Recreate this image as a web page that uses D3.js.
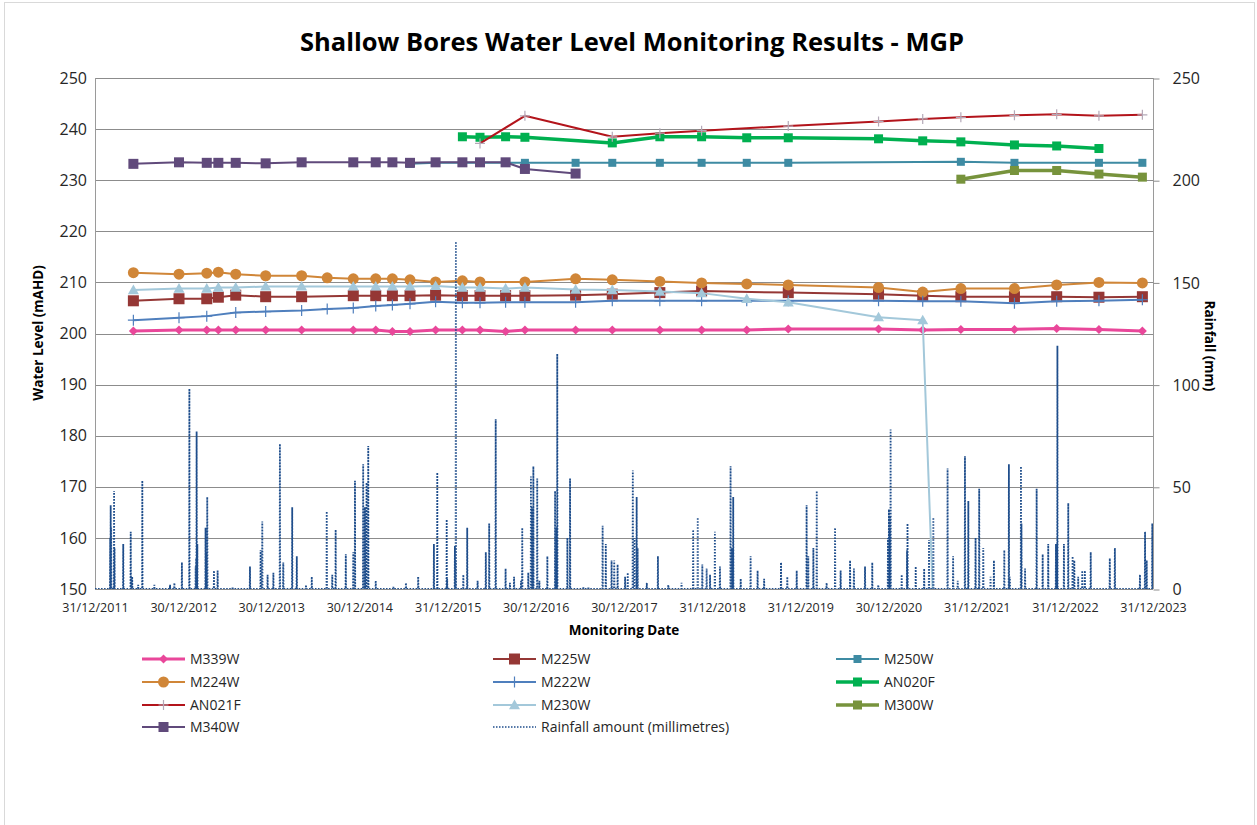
<!DOCTYPE html>
<html lang="en">
<head>
<meta charset="UTF-8">
<title>Shallow Bores Water Level Monitoring Results - MGP</title>
<script src="https://d3js.org/d3.v7.min.js"></script>
<style>
    body { margin: 0; background: #fff; }
    svg { font-family: "Open Sans", "Liberation Sans", sans-serif; }
</style>
</head>
<body>
<div id="chart"></div>
<script>
// sampling dates shared by the bore series
const sampleDates = ["2012-06-07","2012-12-13","2013-04-07","2013-05-25","2013-08-05","2013-12-07",
    "2014-05-05","2014-08-19","2014-12-05","2015-03-08","2015-05-16","2015-07-28","2015-11-11",
    "2016-03-01","2016-05-13","2016-08-27","2016-11-15","2017-06-13","2017-11-12","2018-05-28",
    "2018-11-17","2019-05-23","2019-11-11","2020-11-19","2021-05-21","2021-10-26","2022-06-05",
    "2022-11-27","2023-05-21","2023-11-17"];

const M339W = [200.5,200.7,200.7,200.7,200.7,200.7,200.7,null,200.7,200.7,200.4,200.4,200.7,200.7,200.7,
    200.4,200.7,200.7,200.7,200.7,200.7,200.7,200.9,200.9,200.7,200.8,200.8,201.0,200.8,200.5];
const M225W = [206.4,206.8,206.8,207.1,207.5,207.2,207.2,null,207.4,207.4,207.4,207.4,207.5,207.4,207.4,
    207.4,207.4,207.5,207.7,208.0,208.3,null,208.0,207.7,207.4,207.2,207.2,207.2,207.1,207.2];
const M250W = [null,null,null,null,null,null,null,null,null,null,null,233.2,233.4,233.4,233.4,
    233.4,233.4,233.4,233.4,233.4,233.4,233.4,233.4,null,null,233.6,233.4,null,233.4,233.4];
const M224W = [211.9,211.6,211.8,212.0,211.6,211.3,211.3,210.9,210.7,210.7,210.7,210.5,210.1,210.3,210.1,
    null,210.1,210.7,210.5,210.2,209.9,209.7,209.5,209.0,208.1,208.8,208.8,209.5,210.0,209.9];
const M222W = [202.6,203.1,203.4,null,204.1,204.3,204.5,204.8,205.0,205.4,205.6,205.8,206.2,206.0,206.0,
    206.1,206.1,206.1,206.4,206.4,206.4,206.4,206.4,206.4,206.3,206.3,205.9,206.3,206.4,206.6];
const AN020F = [null,null,null,null,null,null,null,null,null,null,null,null,null,238.5,238.4,
    238.5,238.4,null,237.3,238.5,238.5,238.3,238.3,238.1,237.7,237.5,236.9,236.7,236.2,null];
const AN021F = [null,null,null,null,null,null,null,null,null,null,null,null,null,null,237.2,
    null,242.6,null,238.5,239.2,239.7,null,240.6,241.5,242.0,242.3,242.7,242.9,242.6,242.8];
const M230W = [208.5,208.8,208.8,209.0,209.0,209.2,209.2,null,209.2,209.2,209.2,209.2,209.3,209.0,209.0,
    208.8,209.0,208.6,208.5,208.2,207.9,206.8,206.1,203.2,202.6,0,null,null,null,null];
const M300W = [null,null,null,null,null,null,null,null,null,null,null,null,null,null,null,
    null,null,null,null,null,null,null,null,null,null,230.2,231.9,231.9,231.2,230.6];
const M340W = [233.2,233.5,233.4,233.4,233.4,233.3,233.5,null,233.5,233.5,233.5,233.4,233.5,233.5,233.5,
    233.5,232.2,231.3,null,null,null,null,null,null,null,null,null,null,null,null];

// daily rainfall (mm), only the days with rain; every other day is 0
const rainfall = [
    ["2012-03-03",25],["2012-03-05",41],["2012-03-07",30],["2012-03-19",48],["2012-03-21",20],["2012-04-26",22],
    ["2012-05-27",28],["2012-06-02",6],["2012-06-27",2],["2012-07-14",53],["2012-09-02",2],["2012-11-06",2],
    ["2012-11-24",3],["2012-12-25",13],["2013-01-25",98],["2013-02-20",11],["2013-02-22",15],["2013-02-24",77],
    ["2013-02-27",22],["2013-04-02",30],["2013-04-04",18],["2013-04-09",45],["2013-05-07",9],["2013-05-22",9],
    ["2013-07-23",1],["2013-10-03",11],["2013-11-16",19],["2013-11-23",33],["2013-12-15",7],["2014-01-08",8],
    ["2014-02-04",71],["2014-02-18",13],["2014-03-27",40],["2014-04-15",16],["2014-05-23",2],["2014-06-16",6],
    ["2014-08-17",38],["2014-09-09",7],["2014-09-23",29],["2014-11-04",17],["2014-12-05",18],["2014-12-12",53],
    ["2015-01-15",61],["2015-01-22",40],["2015-01-29",52],["2015-02-05",70],["2015-03-08",4],["2015-05-20",1],
    ["2015-07-11",3],["2015-08-31",6],["2015-11-04",22],["2015-11-18",57],["2015-12-27",34],["2015-12-29",5],
    ["2016-01-30",21],["2016-02-01",14],["2016-02-03",170],["2016-03-05",7],["2016-03-21",30],["2016-05-03",4],
    ["2016-06-06",18],["2016-06-20",32],["2016-07-17",83],["2016-08-27",10],["2016-09-14",3],["2016-10-01",6],
    ["2016-10-30",4],["2016-11-04",30],["2016-11-29",8],["2016-12-10",55],["2016-12-14",40],["2016-12-20",60],
    ["2017-01-05",54],["2017-01-14",4],["2017-02-16",16],["2017-03-20",48],["2017-03-25",30],["2017-03-29",115],
    ["2017-05-10",25],["2017-05-21",54],["2017-07-15",1],["2017-08-05",1],["2017-10-03",31],["2017-10-16",22],
    ["2017-11-09",14],["2017-11-20",14],["2017-12-04",12],["2018-01-04",6],["2018-01-15",8],["2018-02-05",58],
    ["2018-02-12",25],["2018-02-21",45],["2018-02-25",20],["2018-04-04",3],["2018-05-20",16],["2018-07-02",2],
    ["2018-08-26",3],["2018-10-13",29],["2018-11-01",35],["2018-11-20",12],["2018-12-08",10],["2018-12-22",7],
    ["2019-01-11",28],["2019-02-01",11],["2019-03-17",60],["2019-03-23",20],["2019-03-28",45],["2019-04-28",5],
    ["2019-06-08",16],["2019-07-07",9],["2019-08-03",5],["2019-10-12",13],["2019-11-07",6],["2019-12-16",9],
    ["2020-01-26",41],["2020-02-02",16],["2020-02-23",20],["2020-03-08",48],["2020-04-18",3],["2020-05-23",30],
    ["2020-06-15",9],["2020-07-24",14],["2020-08-09",10],["2020-09-24",11],["2020-10-24",13],["2020-11-18",2],
    ["2020-12-28",25],["2021-01-01",39],["2021-01-04",30],["2021-01-06",35],["2021-01-08",78],["2021-02-23",7],
    ["2021-03-17",19],["2021-03-19",32],["2021-04-22",11],["2021-05-27",10],["2021-06-16",24],["2021-07-04",35],
    ["2021-09-01",59],["2021-09-24",16],["2021-10-13",4],["2021-11-12",65],["2021-11-26",43],["2021-12-26",25],
    ["2022-01-10",49],["2022-01-27",20],["2022-02-26",6],["2022-03-12",14],["2022-04-24",19],["2022-05-13",61],
    ["2022-05-17",6],["2022-07-02",60],["2022-07-04",32],["2022-07-19",10],["2022-09-05",49],["2022-09-30",17],
    ["2022-10-23",22],["2022-11-24",22],["2022-11-28",20],["2022-11-30",119],["2022-12-27",22],["2023-01-14",42],
    ["2023-02-01",16],["2023-02-08",14],["2023-02-24",6],["2023-03-13",9],["2023-03-24",9],["2023-04-17",18],
    ["2023-07-05",15],["2023-07-26",20],["2023-11-07",7],["2023-11-28",28],["2023-12-05",14],["2023-12-28",32]
];

const xTickDates = ["2011-12-31","2012-12-30","2013-12-30","2014-12-30","2015-12-31","2016-12-30","2017-12-30",
    "2018-12-31","2019-12-31","2020-12-30","2021-12-31","2022-12-31","2023-12-31"];
const xTickLabels = ["31/12/2011","30/12/2012","30/12/2013","30/12/2014","31/12/2015","30/12/2016","30/12/2017",
    "31/12/2018","31/12/2019","30/12/2020","31/12/2021","31/12/2022","31/12/2023"];
const levelTicks = [150,160,170,180,190,200,210,220,230,240,250];
const rainTicks = [0,50,100,150,200,250];

const parse = d3.timeParse("%Y-%m-%d");
const width = 1257, height = 825;
const plot = { left: 95, right: 1153, top: 78, bottom: 589 };

const x = d3.scaleTime()
    .domain([parse("2011-12-31"), parse("2023-12-31")])
    .range([plot.left, plot.right]);
const yLevel = d3.scaleLinear().domain([150, 250]).range([plot.bottom, plot.top]);
const yRain = d3.scaleLinear().domain([0, 250]).range([plot.bottom, plot.top]);

const series = [
    { name: "M339W", values: M339W, color: "#e9479a", width: 3,   marker: "diamond",  size: 4.5 },
    { name: "M225W", values: M225W, color: "#953735", width: 2,   marker: "square",   size: 5.5 },
    { name: "M250W", values: M250W, color: "#3e8ba3", width: 2,   marker: "square",   size: 4 },
    { name: "M224W", values: M224W, color: "#d08638", width: 2,   marker: "circle",   size: 5.5 },
    { name: "M222W", values: M222W, color: "#4f7fbd", width: 2,   marker: "plus",     size: 5.5 },
    { name: "AN020F", values: AN020F, color: "#00b050", width: 3.5, marker: "square", size: 4.5 },
    { name: "AN021F", values: AN021F, color: "#b3141b", width: 2, marker: "plus",     size: 5, markerColor: "#b4a9b8" },
    { name: "M230W", values: M230W, color: "#a3c8da", width: 2,   marker: "triangle", size: 5.5 },
    { name: "M300W", values: M300W, color: "#77933c", width: 3.5, marker: "square",   size: 4.5 },
    { name: "M340W", values: M340W, color: "#604a7b", width: 2,   marker: "square",   size: 5 }
];

const svg = d3.select("#chart").append("svg")
    .attr("width", width)
    .attr("height", height);

// chart border
svg.append("rect")
    .attr("x", 4.5).attr("y", 2.5)
    .attr("width", 1250).attr("height", 840)
    .attr("fill", "none").attr("stroke", "#d9d9d9");

svg.append("defs").append("clipPath").attr("id", "plotClip")
    .append("rect")
    .attr("x", plot.left).attr("y", plot.top - 10)
    .attr("width", plot.right - plot.left)
    .attr("height", plot.bottom - plot.top + 10);

// title
svg.append("text")
    .attr("x", 632).attr("y", 51)
    .attr("text-anchor", "middle")
    .style("font-size", "25.5px").style("font-weight", "bold").attr("fill", "#000")
    .text("Shallow Bores Water Level Monitoring Results - MGP");

// gridlines
svg.append("g").selectAll("line")
    .data(levelTicks)
    .join("line")
    .attr("x1", plot.left).attr("x2", plot.right)
    .attr("y1", d => Math.round(yLevel(d)) + 0.5).attr("y2", d => Math.round(yLevel(d)) + 0.5)
    .attr("stroke", "#8c8c8c");

// plot side borders
[plot.left, plot.right].forEach(px => {
    svg.append("line")
        .attr("x1", px + 0.5).attr("x2", px + 0.5)
        .attr("y1", plot.top).attr("y2", plot.bottom)
        .attr("stroke", "#9a9a9a");
});

// axes
const leftAxis = svg.append("g")
    .attr("transform", `translate(${plot.left},0)`)
    .call(d3.axisLeft(yLevel).tickValues(levelTicks).tickSize(0).tickPadding(8));
const rightAxis = svg.append("g")
    .attr("transform", `translate(${plot.right + 0.5},0.5)`)
    .call(d3.axisRight(yRain).tickValues(rainTicks).tickSize(6).tickPadding(13));
const bottomAxis = svg.append("g")
    .attr("transform", `translate(0,${plot.bottom})`)
    .call(d3.axisBottom(x).tickValues(xTickDates.map(parse))
        .tickFormat((d, i) => xTickLabels[i]).tickSize(0).tickPadding(14));

[leftAxis, rightAxis, bottomAxis].forEach(g => {
    g.select(".domain").remove();
    g.selectAll("text").attr("fill", "#262626").style("font-family", "'Open Sans', sans-serif");
    g.selectAll("line").attr("stroke", "#8c8c8c");
});
leftAxis.selectAll("text").style("font-size", "16px");
rightAxis.selectAll("text").style("font-size", "16px");
bottomAxis.selectAll("text").style("font-size", "12.5px");

// axis titles
svg.append("text")
    .attr("x", 624).attr("y", 635)
    .attr("text-anchor", "middle")
    .style("font-size", "13.5px").style("font-weight", "bold").attr("fill", "#000")
    .text("Monitoring Date");
svg.append("text")
    .attr("transform", "translate(43,333) rotate(-90)")
    .attr("text-anchor", "middle")
    .style("font-size", "13.5px").style("font-weight", "bold").attr("fill", "#000")
    .text("Water Level (mAHD)");
svg.append("text")
    .attr("transform", "translate(1205,346) rotate(90)")
    .attr("text-anchor", "middle")
    .style("font-size", "13.5px").style("font-weight", "bold").attr("fill", "#000")
    .text("Rainfall (mm)");

function drawMarker(g, type, cx, cy, s, color) {
    if (type === "square") {
        g.append("rect").attr("x", cx - s).attr("y", cy - s)
            .attr("width", 2 * s).attr("height", 2 * s).attr("fill", color);
    } else if (type === "circle") {
        g.append("circle").attr("cx", cx).attr("cy", cy).attr("r", s).attr("fill", color);
    } else if (type === "diamond") {
        g.append("path").attr("d", `M${cx},${cy - s}L${cx + s},${cy}L${cx},${cy + s}L${cx - s},${cy}Z`)
            .attr("fill", color);
    } else if (type === "triangle") {
        g.append("path").attr("d", `M${cx},${cy - s}L${cx + s},${cy + s * 0.75}L${cx - s},${cy + s * 0.75}Z`)
            .attr("fill", color);
    } else if (type === "plus") {
        g.append("path").attr("d", `M${cx - s},${cy}H${cx + s}M${cx},${cy - s}V${cy + s}`)
            .attr("stroke", color).attr("stroke-width", 1.2).attr("fill", "none");
    }
}

const dates = sampleDates.map(parse);
const lineGen = d3.line().x(d => x(d.date)).y(d => yLevel(d.value));
const seriesLayer = svg.append("g").attr("clip-path", "url(#plotClip)");

series.forEach(s => {
    const pts = s.values
        .map((v, i) => ({ date: dates[i], value: v }))
        .filter(d => d.value !== null);
    const g = seriesLayer.append("g");
    g.append("path")
        .datum(pts)
        .attr("d", lineGen)
        .attr("fill", "none")
        .attr("stroke", s.color)
        .attr("stroke-width", s.width)
        .attr("stroke-linejoin", "round");
    pts.forEach(d => drawMarker(g, s.marker, x(d.date), yLevel(d.value), s.size, s.markerColor || s.color));
});

// rainfall as a daily dotted line on the secondary axis
const rainMap = new Map(rainfall.map(([d, v]) => [d, v]));
const fmt = d3.timeFormat("%Y-%m-%d");
const days = d3.timeDay.range(parse("2011-12-31"), d3.timeDay.offset(parse("2023-12-31"), 1));
const rainDaily = days.map(d => ({ date: d, mm: rainMap.get(fmt(d)) || 0 }));

svg.append("path")
    .datum(rainDaily)
    .attr("clip-path", "url(#plotClip)")
    .attr("d", d3.line().x(d => x(d.date)).y(d => yRain(d.mm)))
    .attr("fill", "none")
    .attr("stroke", "#1f4e8c")
    .attr("stroke-width", 1.8)
    .attr("stroke-dasharray", "1.6 1.4");

// legend
const legendItems = series.map(s => s.name);
const legendOrder = ["M339W", "M225W", "M250W", "M224W", "M222W", "AN020F", "AN021F", "M230W", "M300W", "M340W", "Rainfall"];
const colX = [142, 493, 836];
const rowY = [659, 682, 705, 727];
const legend = svg.append("g");

legendOrder.forEach((name, i) => {
    const cx = colX[i % 3], cy = rowY[Math.floor(i / 3)];
    const g = legend.append("g");
    if (name === "Rainfall") {
        g.append("line").attr("x1", cx).attr("x2", cx + 43).attr("y1", cy).attr("y2", cy)
            .attr("stroke", "#1f4e8c").attr("stroke-width", 1.5).attr("stroke-dasharray", "1.5 1.5");
        g.append("text").attr("x", cx + 48).attr("y", cy + 5)
            .style("font-size", "14px").attr("fill", "#262626")
            .text("Rainfall amount (millimetres)");
        return;
    }
    const s = series[legendItems.indexOf(name)];
    g.append("line").attr("x1", cx).attr("x2", cx + 43).attr("y1", cy).attr("y2", cy)
        .attr("stroke", s.color).attr("stroke-width", s.width);
    drawMarker(g, s.marker, cx + 21.5, cy, s.size, s.markerColor || s.color);
    g.append("text").attr("x", cx + 48).attr("y", cy + 5)
        .style("font-size", "14px").attr("fill", "#262626")
        .text(s.name);
});
</script>
</body>
</html>
